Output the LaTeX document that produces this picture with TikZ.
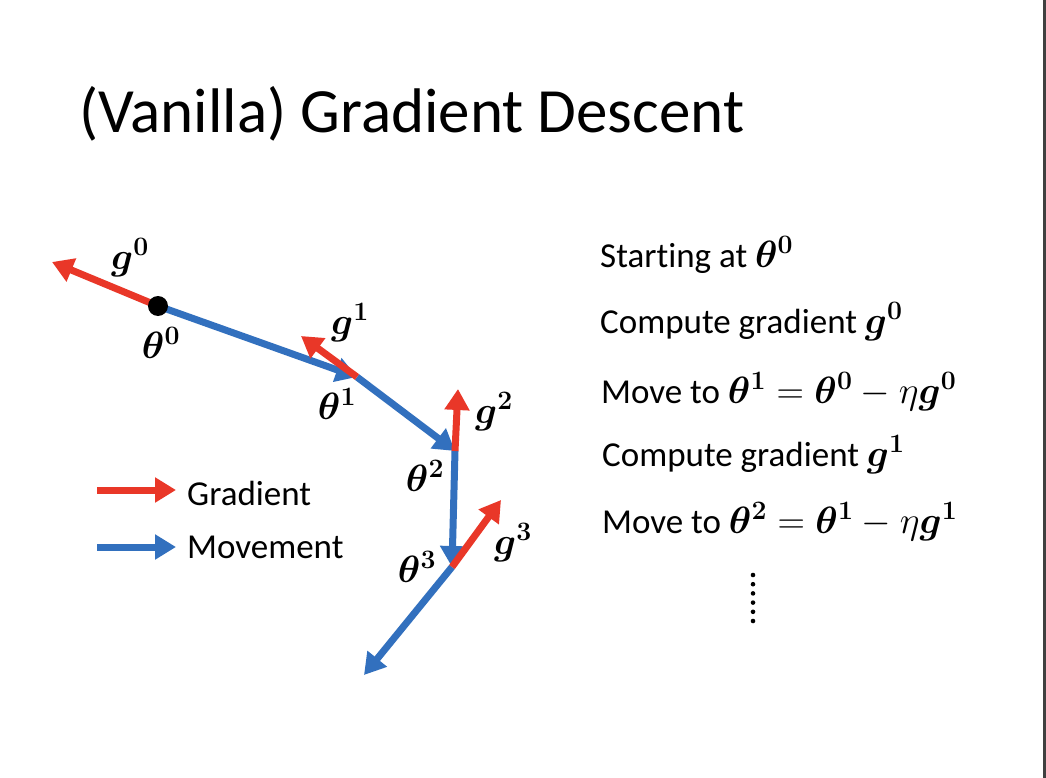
\documentclass[tikz,border=0pt]{standalone}
\usepackage{fix-cm}
\usepackage{amsmath}
\usepackage{bm}
\usepackage{fontspec}
\setmainfont{Carlito}[Ligatures=NoCommon]
\usetikzlibrary{arrows.meta}
\definecolor{gred}{RGB}{233,55,40}
\definecolor{gblue}{RGB}{50,112,190}
\definecolor{edgegray}{RGB}{64,64,64}
\tikzset{
  redarrow/.style={draw=gred, line width=7pt, -{Triangle[length=21pt,width=24pt]}, fill=gred},
  bluearrow/.style={draw=gblue, line width=7pt, -{Triangle[length=21pt,width=24pt]}, fill=gblue},
  lbl/.style={inner sep=0pt, font=\fontsize{38}{44}\selectfont},
  txt/.style={inner sep=0pt, anchor=base west, font=\fontsize{35}{42}\selectfont},
}
\newcommand{\bth}[1]{\bm{\theta}^{\bm{#1}}}
\newcommand{\bg}[1]{\bm{g}^{\bm{#1}}}
\newcommand{\mth}[1]{{\fontsize{38}{44}\selectfont$#1$}}
\begin{document}
\begin{tikzpicture}[x=1pt,y=-1pt]
\useasboundingbox (0,0) rectangle (1046,778);
\fill[white] (0,0) rectangle (1046,778);
\fill[edgegray] (1043,0) rectangle (1046,778);
% title
\node[inner sep=0pt, anchor=base west, font=\fontsize{63}{70}\selectfont] (title) at (79,133) {(Vanilla) Gradient Descent};
% points
\coordinate (t0) at (158,306);
\coordinate (t1) at (357,377);
\coordinate (t2) at (455,451);
\coordinate (t3) at (452,567);
\coordinate (t4) at (364,675);
\coordinate (g0) at (52,262);
\coordinate (g1) at (301,336);
\coordinate (g2) at (458,389);
\coordinate (g3) at (501,500);
% movement
\draw[bluearrow] (t0) -- (t1);
\draw[bluearrow] (t1) -- (t2);
\draw[bluearrow] (t2) -- (t3);
\draw[bluearrow] (t3) -- (t4);
% gradients
\draw[redarrow] (t0) -- (g0);
\draw[redarrow] (t1) -- (g1);
\draw[redarrow] (t2) -- (g2);
\draw[redarrow] (t3) -- (g3);
\fill[black] (t0) circle (10);
% labels
\node[lbl] (lg0) at (130,258) {$\bg{0}$};
\node[lbl] (lt0) at (161,343) {$\bth{0}$};
\node[lbl] (lg1) at (350,323) {$\bg{1}$};
\node[lbl] (lt1) at (337,404) {$\bth{1}$};
\node[lbl] (lg2) at (494,412) {$\bg{2}$};
\node[lbl] (lt2) at (425,476) {$\bth{2}$};
\node[lbl] (lg3) at (513,543) {$\bg{3}$};
\node[lbl] (lt3) at (417,567) {$\bth{3}$};
% legend
\coordinate (lr0) at (97,490);
\coordinate (lr1) at (176,490);
\coordinate (lb0) at (97,547);
\coordinate (lb1) at (176,547);
\draw[redarrow] (lr0) -- (lr1);
\draw[bluearrow] (lb0) -- (lb1);
\node[txt] (lgr) at (187,505) {Gradient};
\node[txt] (lmv) at (187,558) {Movement};
% right text
\node[txt] (s1) at (600,267) {Starting at \mth{\bth{0}}};
\node[txt] (s2) at (600,333) {Compute gradient \mth{\bg{0}}};
\node[txt] (s3) at (601,403) {Move to \mth{\bth{1}=\bth{0}-\eta\bg{0}}};
\node[txt] (s4) at (602,466) {Compute gradient \mth{\bg{1}}};
\node[txt] (s5) at (602,533) {Move to \mth{\bth{2}=\bth{1}-\eta\bg{1}}};
\foreach \i in {0,...,5} \fill[black] (753,575+9.2*\i) circle (2.3);
\end{tikzpicture}
\end{document}
